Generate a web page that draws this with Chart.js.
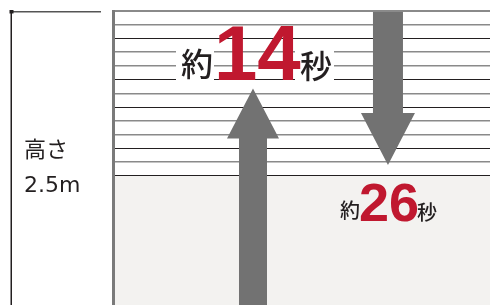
<!DOCTYPE html>
<html><head><meta charset="utf-8">
<script src="https://cdn.jsdelivr.net/npm/chart.js@4.4.1/dist/chart.umd.min.js"></script>
<style>html,body{margin:0;padding:0;background:#fff;overflow:hidden}#wrap{width:490px;height:305px;position:relative}</style>
</head><body><div id="wrap"><canvas id="c"></canvas></div>
<script>
// ---- data ----
const ceilingHeight = 2.5;            // m (room height)
const smokeLayerBottom = 1.1;         // m (lower edge of the striped layer)
const smokeLevels = [1.1, 1.217, 1.333, 1.45, 1.567, 1.683, 1.8, 1.917, 2.033, 2.15, 2.267, 2.383, 2.5];
const arrowTimes = [14, 26];          // seconds
const arrowFrom = [0, 2.5];           // m : up arrow from floor, down arrow from ceiling
const arrowTo = [1.84, 1.19];         // m : arrow tips
const timePrefix = '約';
const timeSuffix = '秒';
const heightLabel = ['高さ', '2.5m'];

// ---- layout / style (not data) ----
const arrowX = [37.05, 72.9];
const arrowStyle = [{sw: 14, hw: 26, hl: 50}, {sw: 15, hw: 27, hl: 52}];
const DARK = '#231f20', GRAY = '#8a8a8a', ARROW = '#727272', RED = '#c0182f';
const shadePattern = [DARK, GRAY, DARK, GRAY, GRAY];

function inkText(ctx, text, font, color, inkLeft, inkBottom) {
  ctx.font = font; ctx.fillStyle = color; ctx.textAlign = 'left'; ctx.textBaseline = 'alphabetic';
  const m = ctx.measureText(text);
  ctx.fillText(text, inkLeft + m.actualBoundingBoxLeft, inkBottom - m.actualBoundingBoxDescent);
  return m;
}

const illustration = {
  id: 'illustration',
  beforeDraw(chart) {
    const {ctx, chartArea: a, scales: {y}} = chart;
    ctx.save();
    ctx.fillStyle = '#fff';
    ctx.fillRect(0, 0, chart.width, chart.height);
    const yb = y.getPixelForValue(smokeLayerBottom);
    ctx.fillStyle = '#f3f2f0';
    ctx.fillRect(a.left, yb, a.right - a.left, a.bottom - yb);
    ctx.restore();
  },
  afterDatasetsDraw(chart) {
    const {ctx, chartArea: a, scales: {x, y}} = chart;
    const top = y.getPixelForValue(ceilingHeight), bottom = y.getPixelForValue(0);
    ctx.save();
    // height dimension marker
    ctx.fillStyle = DARK;
    ctx.fillRect(10.5, top, 1.5, bottom - top);
    ctx.fillStyle = '#555';
    ctx.fillRect(11, top, 90, 1.5);
    ctx.fillStyle = DARK;
    ctx.fillRect(9.5, top - 1, 4, 3.5);

    // arrows
    for (let i = 0; i < arrowTimes.length; i++) {
      const cx = x.getPixelForValue(arrowX[i]);
      let y0 = y.getPixelForValue(arrowFrom[i]);
      const y1 = y.getPixelForValue(arrowTo[i]);
      const dir = Math.sign(y1 - y0);
      if (arrowFrom[i] === ceilingHeight) y0 += 1;
      const s = arrowStyle[i];
      const yb = y1 - dir * s.hl;
      ctx.fillStyle = ARROW;
      ctx.beginPath();
      ctx.moveTo(cx - s.sw, y0);
      ctx.lineTo(cx - s.sw, yb);
      ctx.lineTo(cx - s.hw, yb);
      ctx.lineTo(cx, y1);
      ctx.lineTo(cx + s.hw, yb);
      ctx.lineTo(cx + s.sw, yb);
      ctx.lineTo(cx + s.sw, y0);
      ctx.closePath();
      ctx.fill();
    }

    // label 1 (above up arrow, inside striped layer)
    {
      const cx = x.getPixelForValue(arrowX[0]);
      const tip = y.getPixelForValue(arrowTo[0]);
      const base = tip - 8.5;
      ctx.fillStyle = '#fff';
      ctx.fillRect(cx - 77, base - 36, 38, 41);
      ctx.fillRect(cx + 42, base - 34, 39, 40);
      inkText(ctx, timePrefix, '500 32px "Noto Sans CJK JP"', DARK, cx - 72, base);
      inkText(ctx, String(arrowTimes[0]), 'bold 78px "Liberation Sans"', RED, cx - 35, base);
      inkText(ctx, timeSuffix, '500 32px "Noto Sans CJK JP"', DARK, cx + 47, base + 2);
    }
    // label 2 (below down arrow)
    {
      const cx = x.getPixelForValue(arrowX[1]);
      const tip = y.getPixelForValue(arrowTo[1]);
      const base = tip + 57;
      inkText(ctx, timePrefix, '500 20px "Noto Sans CJK JP"', DARK, cx - 48, base - 2);
      inkText(ctx, String(arrowTimes[1]), 'bold 54px "Liberation Sans"', RED, cx - 28, base);
      inkText(ctx, timeSuffix, '500 20px "Noto Sans CJK JP"', DARK, cx + 29, base);
    }
    // height label
    inkText(ctx, heightLabel[0], '400 22px "Noto Sans CJK JP"', DARK, 25, 160);
    inkText(ctx, heightLabel[1], '22px "DejaVu Sans"', DARK, 25, 192);
    ctx.restore();
  }
};

new Chart(document.getElementById('c'), {
  type: 'bar',
  data: { datasets: [] },
  options: {
    animation: false,
    responsive: true,
    maintainAspectRatio: false,
    devicePixelRatio: 1,
    layout: { padding: { left: 113.5, top: 11, right: 0, bottom: 0 } },
    plugins: { legend: { display: false }, tooltip: { enabled: false } },
    scales: {
      x: { type: 'linear', min: 0, max: 100, display: false, offset: false },
      y: {
        type: 'linear', min: 0, max: ceilingHeight,
        afterBuildTicks: s => { s.ticks = smokeLevels.map(v => ({ value: v })); },
        ticks: { display: false },
        grid: {
          drawTicks: false,
          color: c => c.index === smokeLevels.length - 1 ? GRAY : shadePattern[c.index % shadePattern.length],
          lineWidth: c => c.index === smokeLevels.length - 1 ? 2 : (shadePattern[c.index % shadePattern.length] === DARK ? 1 : 1.5)
        },
        border: { display: true, color: '#7a7a7a', width: 3 }
      }
    }
  },
  plugins: [illustration]
});
</script></body></html>
